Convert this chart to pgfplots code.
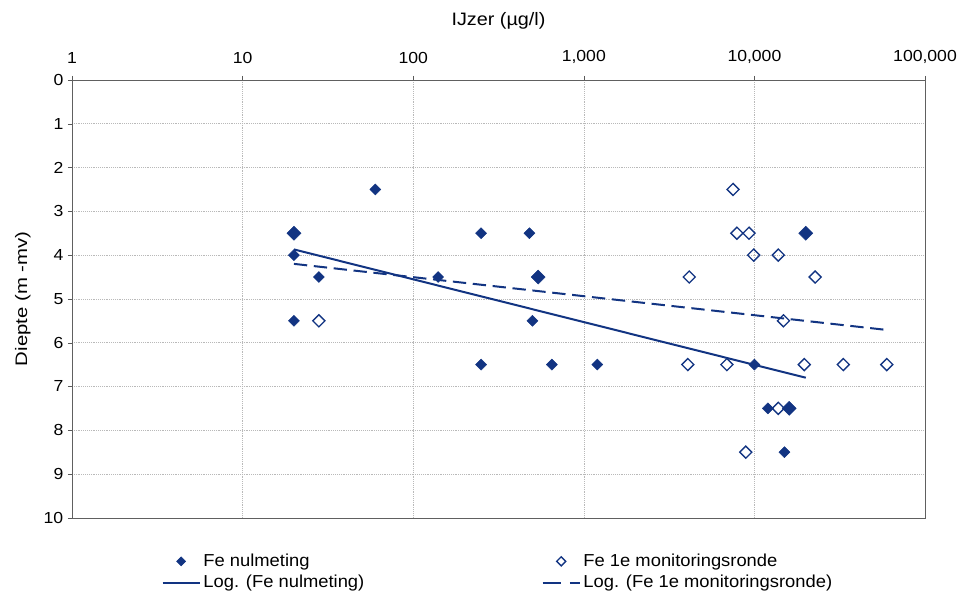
\documentclass[border=0pt]{standalone}
\usepackage{fontspec}
\setmainfont{Liberation Sans}[FakeStretch=1.1]
\newfontfamily\legfont{Liberation Sans}[FakeStretch=1.06]
\newfontfamily\ylabfont{Liberation Sans}[FakeStretch=1.22]
\usepackage{pgfplots}
\pgfplotsset{compat=1.18}
\definecolor{navy}{RGB}{18,52,130}
\pgfplotsset{
  mylinelegend/.style={legend image code/.code={\draw[##1] (0cm,0cm) -- (0.98cm,0cm);}},
  mydashlegend/.style={legend image code/.code={\draw[##1, dash pattern=on 13.5pt off 7pt] (0cm,0cm) -- (0.98cm,0cm);}},
  mymarklegend/.style={legend image code/.code={\draw[mark repeat=2,mark phase=2,##1, mark size=2.4pt] plot coordinates {(0cm,0cm) (0.49cm,0cm) (0.98cm,0cm)};}},
}
\begin{document}
\begin{tikzpicture}
\useasboundingbox (-54pt,-55.5pt) rectangle (665.5pt,388.5pt);
\begin{axis}[
  at={(0,0)}, anchor=south west,
  scale only axis, width=640pt, height=328.5pt,
  xmode=log, xmin=1, xmax=100000, ymin=0, ymax=10, y dir=reverse,
  xtick={1,10,100,1000,10000,100000},
  xticklabels={1,10,100,{1,000},{10,000},{100,000}},
  xminorticks=false,
  ytick={0,1,2,3,4,5,6,7,8,9,10},
  xticklabel pos=upper, xtick pos=upper, ytick pos=left,
  tick align=outside, major tick length=3pt,
  tick style={gray!70!black},
  grid=major, major grid style={densely dotted, gray!55},
  axis line style={gray!75!black},
  xlabel={IJzer (µg/l)}, ylabel={Diepte (m -mv)},
  font=\fontsize{12}{14}\selectfont,
  xticklabel style={yshift=5.5pt},
  xlabel style={yshift=9pt, font=\fontsize{13.5}{16}\selectfont},
  ylabel style={font=\fontsize{12.5}{15}\selectfont\ylabfont, yshift=3pt},
  /pgf/number format/assume math mode=true,
  legend columns=2,
  legend cell align=left,
  legend style={draw=none, fill=none, at={(0.1,-0.070)}, anchor=north west,
    font=\fontsize{13}{15}\selectfont\legfont,
    /tikz/every even column/.append style={column sep=131pt}, row sep=1pt},
]
\addplot[only marks, mark=square*, mark size=2.9pt, color=navy, mymarklegend,
  mark options={rotate=45, fill=navy, draw=navy}] coordinates {
 (20,3.5) (20,4.0) (20,5.5) (28,4.5) (60,2.5) (140,4.5) (250,3.5) (250,6.5)
 (480,3.5) (500,5.5) (540,4.5) (650,6.5) (1200,6.5) (20000,3.5) (10000,6.5)
 (12000,7.5) (16000,7.5) (15000,8.5)
};
\addlegendentry{Fe nulmeting}
\addplot[only marks, mark=square, mark size=3.2pt, color=navy, mymarklegend,
  mark options={rotate=45, draw=navy, line width=1pt}] coordinates {
 (28,5.5) (7500,2.5) (7900,3.5) (9300,3.5) (9900,4.0) (13800,4.0) (4150,4.5)
 (22700,4.5) (14800,5.5) (4070,6.5) (6900,6.5) (19600,6.5) (33200,6.5)
 (59700,6.5) (13800,7.5) (8900,8.5)
};
\addlegendentry{Fe 1e monitoringsronde}
\addplot[navy, line width=1.5pt, mylinelegend] coordinates {(20,3.87) (20000,6.80)};
\addlegendentry{Log. (Fe nulmeting)}
\addplot[navy, line width=1.5pt, dash pattern=on 10pt off 5pt, mydashlegend] coordinates {(20,4.20) (60000,5.71)};
\addlegendentry{Log. (Fe 1e monitoringsronde)}
\addplot[only marks, mark=square*, mark size=3.7pt, color=navy, forget plot,
  mark options={rotate=45, fill=navy, draw=navy}] coordinates {
 (20,3.5) (540,4.5) (20000,3.5) (16000,7.5)
};
\end{axis}
\end{tikzpicture}
\end{document}
